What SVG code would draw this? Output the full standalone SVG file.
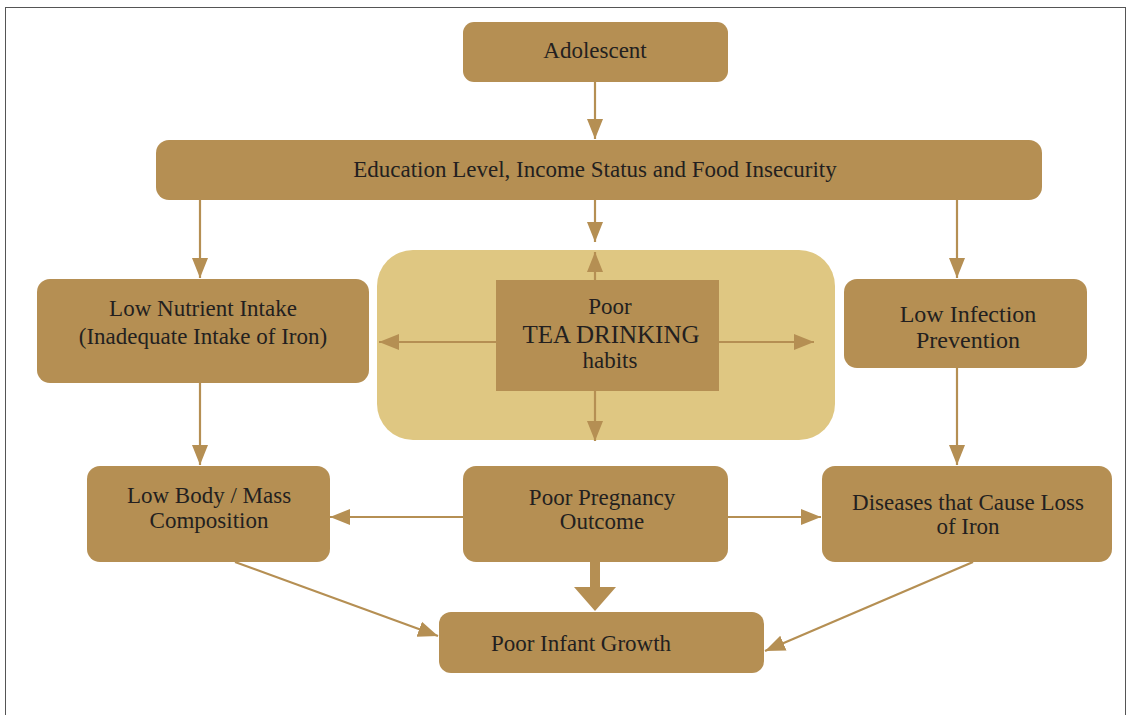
<svg xmlns="http://www.w3.org/2000/svg" width="1132" height="715" viewBox="0 0 1132 715">
  <style>
    .node { fill: #b58f53; }
    .label { font-family: "Liberation Serif", "DejaVu Serif", serif; font-size: 23px; fill: #231f20; text-anchor: middle; }
    .big { font-size: 25px; }
    .mid { font-size: 24px; }
    .conn { stroke: #b58f53; stroke-width: 2.2; fill: none; }
  </style>
  <defs>
    <marker id="arr" viewBox="0 0 20 20" refX="20" refY="10" markerWidth="20" markerHeight="20" markerUnits="userSpaceOnUse" orient="auto">
      <path d="M0,2 L20,10 L0,18 z" fill="#b58f53"/>
    </marker>
  </defs>

  <!-- page frame -->
  <rect x="5.5" y="7.5" width="1120" height="720" fill="#ffffff" stroke="#555555" stroke-width="1"/>

  <!-- highlight panel behind the tea node -->
  <g id="tea-panel">
    <rect x="377" y="250" width="458" height="190" rx="36" fill="#dfc782"/>
  </g>

  <g id="connectors">
    <line class="conn" x1="595" y1="82" x2="595" y2="139" marker-end="url(#arr)"/>
    <line class="conn" x1="200" y1="200" x2="200" y2="278" marker-end="url(#arr)"/>
    <line class="conn" x1="595" y1="200" x2="595" y2="242" marker-end="url(#arr)"/>
    <line class="conn" x1="957" y1="200" x2="957" y2="278" marker-end="url(#arr)"/>
    <line class="conn" x1="595" y1="280" x2="595" y2="252" marker-end="url(#arr)"/>
    <line class="conn" x1="496" y1="342" x2="379" y2="342" marker-end="url(#arr)"/>
    <line class="conn" x1="719" y1="342" x2="814" y2="342" marker-end="url(#arr)"/>
    <line class="conn" x1="595" y1="391" x2="595" y2="441" marker-end="url(#arr)"/>
    <line class="conn" x1="200" y1="383" x2="200" y2="465" marker-end="url(#arr)"/>
    <line class="conn" x1="957" y1="368" x2="957" y2="465" marker-end="url(#arr)"/>
    <line class="conn" x1="463" y1="517" x2="330" y2="517" marker-end="url(#arr)"/>
    <line class="conn" x1="728" y1="517" x2="821" y2="517" marker-end="url(#arr)"/>
    <line class="conn" x1="235" y1="562" x2="438" y2="636" marker-end="url(#arr)"/>
    <line class="conn" x1="973" y1="562" x2="765" y2="651" marker-end="url(#arr)"/>
    <!-- thick arrow into infant growth -->
    <path d="M590,562 L600,562 L600,587 L616,587 L595,611 L574,587 L590,587 z" fill="#b58f53"/>
  </g>

  <g id="adolescent">
    <rect class="node" x="463" y="22" width="265" height="60" rx="11"/>
    <text class="label" x="595" y="58">Adolescent</text>
  </g>

  <g id="education">
    <rect class="node" x="156" y="140" width="886" height="60" rx="13"/>
    <text class="label" x="595" y="177">Education Level, Income Status and Food Insecurity</text>
  </g>

  <g id="low-nutrient">
    <rect class="node" x="37" y="279" width="332" height="104" rx="13"/>
    <text class="label" x="203" y="316">Low Nutrient Intake</text>
    <text class="label" x="203" y="344">(Inadequate Intake of Iron)</text>
  </g>

  <g id="tea">
    <rect class="node" x="496" y="280" width="223" height="111"/>
    <text class="label" x="610" y="314">Poor</text>
    <text class="label big" x="611" y="343">TEA DRINKING</text>
    <text class="label" x="610" y="368">habits</text>
  </g>

  <g id="low-infection">
    <rect class="node" x="844" y="279" width="243" height="89" rx="13"/>
    <text class="label mid" x="968" y="322">Low Infection</text>
    <text class="label mid" x="968" y="348">Prevention</text>
  </g>

  <g id="low-body">
    <rect class="node" x="87" y="466" width="243" height="96" rx="13"/>
    <text class="label" x="209" y="503">Low Body / Mass</text>
    <text class="label" x="209" y="528">Composition</text>
  </g>

  <g id="pregnancy">
    <rect class="node" x="463" y="466" width="265" height="96" rx="13"/>
    <text class="label" x="602" y="505">Poor Pregnancy</text>
    <text class="label" x="602" y="529">Outcome</text>
  </g>

  <g id="diseases">
    <rect class="node" x="822" y="466" width="290" height="96" rx="13"/>
    <text class="label" x="968" y="510">Diseases that Cause Loss</text>
    <text class="label" x="968" y="534">of Iron</text>
  </g>

  <g id="infant-growth">
    <rect class="node" x="439" y="612" width="325" height="61" rx="12"/>
    <text class="label" x="581" y="651">Poor Infant Growth</text>
  </g>
</svg>
